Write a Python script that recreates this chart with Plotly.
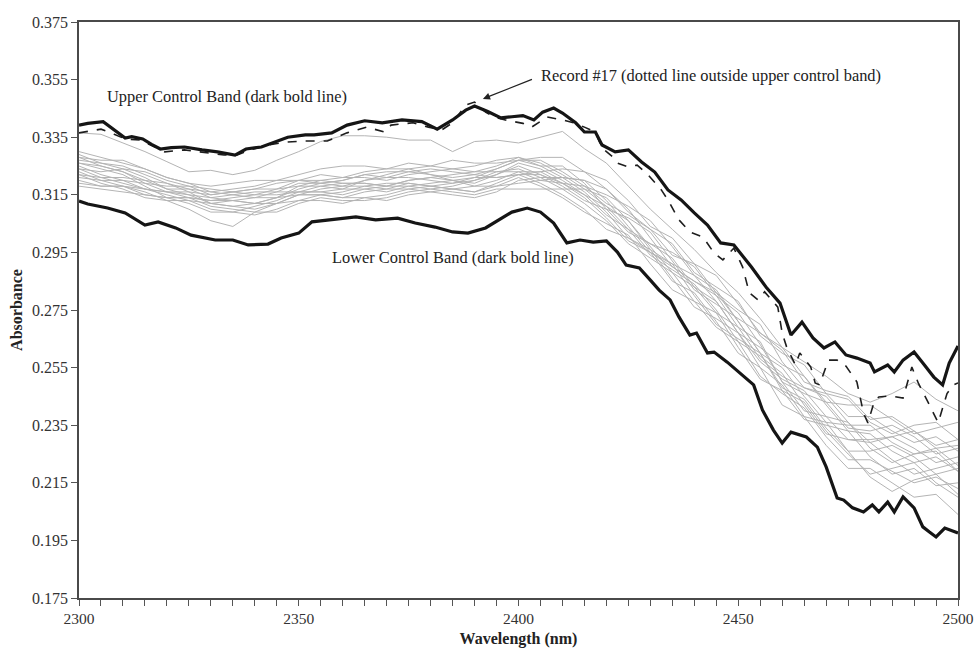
import plotly.graph_objects as go

# ---------------- data ----------------
wavelength = [2300, 2305, 2310, 2315, 2320, 2325, 2330, 2335, 2340, 2345, 2350,
              2355, 2360, 2365, 2370, 2375, 2380, 2385, 2390, 2395, 2400,
              2405, 2410, 2415, 2420, 2425, 2430, 2435, 2440, 2445, 2450,
              2455, 2460, 2465, 2470, 2475, 2480, 2485, 2490, 2495, 2500]

records = [
    [.3365, .336, .333, .330, .3265, .323, .3235, .322, .3235, .327, .330, .3335, .3355, .3355, .335, .334, .334, .330, .3335, .334, .333, .335, .337, .331, .326, .318, .310, .303, .296, .288, .281, .272, .262, .257, .252, .246, .243, .246, .250, .244, .240],
    [.330, .328, .326, .324, .321, .319, .316, .317, .318, .320, .322, .324, .325, .325, .324, .324, .325, .327, .326, .326, .327, .328, .328, .323, .317, .309, .303, .294, .291, .281, .275, .270, .257, .248, .246, .244, .236, .232, .235, .236, .230],
    [.328, .325, .323, .319, .316, .314, .313, .314, .315, .315, .316, .316, .317, .320, .322, .324, .322, .320, .319, .322, .326, .324, .320, .315, .308, .303, .298, .293, .283, .274, .269, .264, .250, .240, .238, .236, .227, .222, .225, .226, .219],
    [.326, .324, .322, .318, .314, .312, .309, .309, .311, .313, .316, .318, .319, .319, .318, .318, .317, .318, .320, .323, .324, .321, .317, .312, .306, .298, .293, .288, .278, .269, .264, .252, .246, .241, .231, .223, .223, .219, .215, .217, .213],
    [.322, .321, .321, .320, .319, .317, .314, .313, .312, .314, .317, .319, .320, .322, .321, .321, .320, .319, .321, .324, .327, .327, .323, .318, .312, .308, .303, .298, .288, .283, .278, .266, .260, .256, .246, .238, .238, .233, .229, .231, .226],
    [.320, .318, .318, .317, .316, .315, .312, .311, .310, .312, .315, .315, .314, .316, .317, .319, .318, .317, .316, .318, .321, .318, .314, .309, .305, .301, .291, .282, .278, .274, .262, .251, .247, .243, .233, .225, .218, .220, .222, .215, .210],
    [.324, .323, .324, .323, .320, .318, .315, .316, .317, .319, .320, .320, .319, .319, .318, .320, .321, .322, .323, .323, .323, .320, .319, .318, .315, .311, .306, .297, .287, .278, .267, .262, .256, .252, .242, .233, .232, .226, .222, .224, .219],
    [.318, .317, .316, .315, .314, .314, .311, .310, .309, .309, .312, .314, .313, .313, .314, .316, .317, .316, .315, .317, .317, .317, .317, .317, .314, .306, .296, .286, .276, .272, .267, .255, .242, .238, .236, .226, .217, .212, .216, .218, .211],
    [.327, .326, .325, .322, .319, .316, .312, .311, .312, .314, .318, .320, .321, .323, .324, .326, .325, .324, .323, .325, .328, .325, .321, .316, .309, .300, .295, .290, .285, .280, .269, .258, .252, .248, .245, .236, .229, .231, .233, .227, .221],
    [.325, .322, .320, .317, .315, .313, .310, .309, .308, .310, .313, .315, .316, .318, .319, .319, .318, .319, .320, .322, .325, .322, .318, .313, .310, .307, .302, .292, .282, .277, .272, .267, .262, .252, .243, .242, .242, .237, .232, .234, .236],
    [.329, .326, .324, .321, .317, .315, .314, .315, .316, .316, .316, .316, .315, .317, .318, .320, .321, .320, .318, .318, .319, .320, .321, .320, .317, .310, .300, .290, .285, .281, .271, .260, .248, .244, .234, .226, .226, .228, .224, .218, .220],
    [.321, .320, .320, .319, .318, .318, .317, .316, .315, .317, .320, .322, .321, .321, .320, .322, .323, .324, .325, .327, .328, .326, .322, .317, .311, .303, .294, .289, .284, .275, .264, .259, .253, .242, .232, .230, .229, .223, .218, .220, .222],
    [.323, .320, .318, .315, .314, .314, .313, .313, .314, .316, .319, .319, .318, .318, .317, .317, .316, .317, .318, .320, .323, .323, .319, .314, .307, .299, .295, .291, .287, .282, .271, .260, .255, .245, .236, .235, .235, .229, .225, .227, .228],
    [.319, .318, .318, .316, .313, .310, .306, .304, .309, .312, .315, .315, .314, .314, .313, .315, .316, .315, .314, .316, .320, .321, .321, .320, .313, .304, .295, .285, .281, .271, .260, .255, .249, .238, .228, .220, .220, .215, .210, .211, .204],
    [.326, .325, .323, .320, .317, .317, .316, .315, .314, .314, .315, .317, .318, .320, .321, .323, .324, .323, .322, .321, .322, .323, .324, .323, .320, .313, .304, .300, .291, .287, .277, .267, .261, .250, .247, .245, .237, .238, .233, .228, .230],
    [.322, .319, .317, .314, .313, .313, .312, .313, .312, .312, .313, .313, .312, .314, .315, .317, .318, .317, .316, .319, .322, .322, .319, .315, .311, .306, .297, .288, .283, .278, .267, .257, .251, .247, .238, .230, .230, .231, .227, .222, .224],
    [.324, .321, .319, .317, .316, .316, .315, .316, .317, .317, .318, .318, .317, .317, .316, .318, .319, .320, .321, .321, .322, .319, .315, .310, .303, .300, .296, .291, .280, .270, .265, .260, .247, .237, .235, .233, .224, .218, .220, .214, .215],
    [.328, .327, .327, .324, .321, .319, .318, .319, .320, .320, .320, .319, .320, .322, .323, .323, .322, .321, .322, .324, .327, .325, .325, .319, .310, .302, .298, .295, .290, .280, .274, .263, .250, .246, .243, .234, .233, .235, .231, .225, .227],
]

upper_wl = [2300, 2302, 2305.5, 2308, 2310.5, 2312, 2314.5, 2316.5, 2318.5, 2321, 2324, 2328, 2331.5, 2335.5, 2338,
            2341.5, 2344.5, 2347.5, 2351.5, 2353.5, 2357.5, 2361, 2365, 2369, 2373.5, 2378, 2381.5, 2385, 2388,
            2390, 2393, 2396, 2398.5, 2401, 2403.5, 2405.5, 2408, 2410, 2413, 2415, 2417.5, 2419, 2422, 2425,
            2428, 2431, 2434, 2437, 2440, 2443, 2446, 2449, 2453, 2456.5, 2459.5, 2462, 2464.5, 2467, 2469.5,
            2472, 2474.5, 2477, 2480, 2481, 2484, 2485.5, 2487.5, 2490, 2492, 2494.5, 2496.5, 2498, 2500]
upper_abs = [.3392, .3398, .3404, .3375, .3347, .3352, .3344, .3325, .3309, .3314, .3316, .3306, .3299, .3288, .3309,
             .3316, .3333, .3350, .3358, .3358, .3365, .3392, .3407, .3400, .3410, .3404, .3378, .3410, .3444,
             .3458, .3439, .3417, .3421, .3425, .3410, .3437, .3451, .3434, .3400, .3368, .3368, .3323, .3299, .3306,
             .3264, .3229, .3167, .3132, .3087, .3045, .2983, .2976, .2899, .2826, .2774, .2663, .2708, .2653, .2618,
             .2639, .2594, .2583, .2566, .2535, .2559, .2535, .2576, .2604, .2566, .2517, .2490, .2566, .2625]

lower_wl = [2300, 2302, 2306.5, 2310.5, 2315, 2318, 2322, 2325.5, 2331, 2335, 2338.5, 2343, 2346, 2350, 2353,
            2357.5, 2363, 2367.5, 2372.5, 2376.5, 2381, 2385, 2388.5, 2392.5, 2395.5, 2398.5, 2402, 2405, 2408,
            2411, 2414, 2417, 2420, 2422.5, 2424.5, 2427.5, 2430, 2432, 2434.5, 2436.5, 2439, 2440.5, 2443,
            2444.5, 2447.5, 2450.5, 2453.5, 2455.5, 2458, 2460, 2462, 2465.5, 2468, 2470, 2472.5, 2474, 2476,
            2478.5, 2480.5, 2482, 2484, 2485.5, 2487.5, 2490, 2492, 2493.5, 2495, 2497, 2500]
lower_abs = [.3128, .3118, .3104, .3087, .3045, .3056, .3035, .3010, .2993, .2993, .2976, .2979, .3000, .3017, .3056,
             .3063, .3073, .3063, .3069, .3052, .3038, .3021, .3017, .3035, .3063, .3090, .3104, .3090, .3052,
             .2983, .2993, .2986, .2990, .2951, .2906, .2896, .2854, .2819, .2785, .2726, .2663, .2670, .2601,
             .2604, .2569, .2531, .2490, .2403, .2333, .2288, .2326, .2309, .2274, .2205, .2097, .2090, .2063,
             .2049, .2073, .2049, .2083, .2049, .2101, .2063, .1997, .1979, .1962, .1993, .1976]

rec17_wl = [2300, 2305, 2308, 2310.5, 2314, 2319.5, 2324, 2329, 2333, 2336, 2339, 2343, 2347, 2351.5, 2356.5,
            2361, 2365.5, 2369.5, 2371, 2376, 2379.5, 2382.5, 2385, 2388, 2390, 2392.5, 2394.5, 2397, 2401,
            2403, 2406.5, 2410, 2412.5, 2415, 2417.5, 2419, 2421.5, 2422.5, 2425, 2427, 2429.5, 2432.5, 2434,
            2436.5, 2439, 2442, 2444.5, 2446.5, 2449, 2451, 2452.5, 2454.5, 2456, 2459, 2460, 2461, 2463, 2464,
            2466.5, 2467.5, 2468.5, 2470.5, 2472.5, 2474.5, 2477, 2478.5, 2479.5, 2481, 2482, 2484.5, 2487.5,
            2489.5, 2491, 2493.5, 2495.5, 2497.5, 2499, 2500]
rec17_abs = [.3365, .3378, .3360, .3344, .3340, .3299, .3306, .3295, .3288, .3288, .3306, .3323, .3333, .3337, .3337,
             .3365, .3385, .3368, .3392, .3400, .3385, .3375, .3400, .3462, .3472, .3437, .3420, .3410, .3398,
             .3385, .3420, .3410, .3400, .3385, .3368, .3313, .3281, .3260, .3247, .3253, .3219, .3167, .3132,
             .3063, .3021, .3003, .2948, .2924, .2965, .2899, .2810, .2785, .2813, .2760, .2670, .2622, .2559, .2601,
             .2552, .2497, .2490, .2576, .2576, .2555, .2500, .2392, .2358, .2435, .2448, .2452, .2444,
             .2552, .2495, .2420, .2359, .2460, .2490, .2497]

x_tick_vals = list(range(2300, 2501, 5))
x_tick_text = [str(v) if v % 50 == 0 else "" for v in x_tick_vals]
y_ticks = [0.175, 0.195, 0.215, 0.235, 0.255, 0.275, 0.295, 0.315, 0.335, 0.355, 0.375]
y_tick_text = ["0.175", "0.195", "0.215", "0.235", "0.255", "0.275", "0.295", "0.315", "0.335", "0.355", "0.375"]

# ---------------- figure ----------------
FONT = "Liberation Serif"
fig = go.Figure()

for rec in records:
    fig.add_trace(go.Scatter(x=wavelength, y=rec, mode="lines",
                             line=dict(color="#b4b4b4", width=1), showlegend=False, hoverinfo="skip"))

fig.add_trace(go.Scatter(x=rec17_wl, y=rec17_abs, mode="lines",
                         line=dict(color="#1e1e1e", width=1.6, dash="dash"), showlegend=False))
fig.add_trace(go.Scatter(x=upper_wl, y=upper_abs, mode="lines",
                         line=dict(color="#151515", width=3.2), showlegend=False))
fig.add_trace(go.Scatter(x=lower_wl, y=lower_abs, mode="lines",
                         line=dict(color="#151515", width=3.2), showlegend=False))

afont = dict(family=FONT, size=16.4, color="#222222")
fig.add_annotation(x=2333.6, y=0.349, text="Upper Control Band (dark bold line)",
                   showarrow=False, font=afont, xanchor="center", yanchor="middle")
fig.add_annotation(x=2385.0, y=0.2931, text="Lower Control Band (dark bold line)",
                   showarrow=False, font=afont, xanchor="center", yanchor="middle")
fig.add_annotation(x=2404.6, y=0.3563, text="Record #17 (dotted line outside upper control band)",
                   showarrow=False, font=afont, xanchor="left", yanchor="middle")
fig.add_annotation(x=2391.9, y=0.3483, ax=2403.4, ay=0.3553, axref="x", ayref="y",
                   text="", showarrow=True, arrowhead=2, arrowsize=1.1, arrowwidth=1.3,
                   arrowcolor="#222222")

axis_common = dict(showgrid=False, zeroline=False, showline=True, linecolor="#4a4a4a",
                   linewidth=1.5, mirror=True, ticks="outside", ticklen=6, tickwidth=1.2,
                   tickcolor="#555555", ticklabeloverflow="allow")

fig.update_xaxes(range=[2300, 2500], tickmode="array", tickvals=x_tick_vals, ticktext=x_tick_text,
                 tickfont=dict(family=FONT, size=15.5, color="#333333"),
                 title=dict(text="<b>Wavelength (nm)</b>", font=dict(family=FONT, size=16, color="#222222"),
                            standoff=6),
                 **axis_common)
fig.update_yaxes(range=[0.175, 0.375], tickmode="array", tickvals=y_ticks, ticktext=y_tick_text,
                 tickfont=dict(family=FONT, size=16, color="#333333"),
                 title=dict(text="<b>Absorbance</b>", font=dict(family=FONT, size=16, color="#222222"),
                            standoff=5),
                 **axis_common)

fig.update_layout(width=974, height=650, margin=dict(l=79, r=16, t=22, b=52, autoexpand=False),
                  plot_bgcolor="white", paper_bgcolor="white")

fig.write_html("out.html")
